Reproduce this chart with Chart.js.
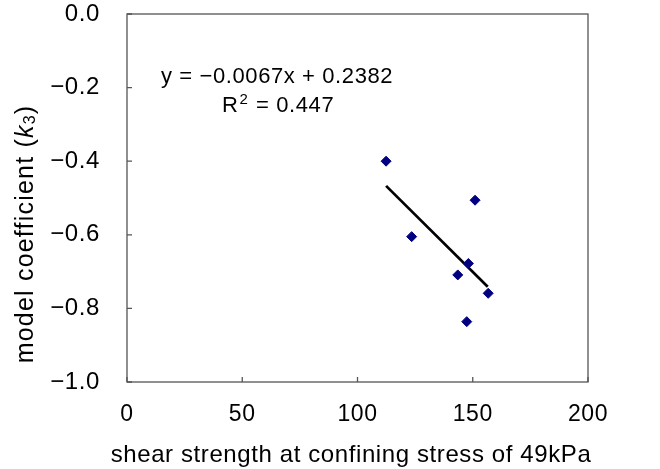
<!DOCTYPE html>
<html>
<head>
<meta charset="utf-8">
<script src="https://cdn.jsdelivr.net/npm/chart.js@4/dist/chart.umd.min.js"></script>
<style>
  html, body { margin: 0; padding: 0; background: #fff; }
  #wrap { width: 660px; height: 469px; }
</style>
</head>
<body>
<div id="wrap"><canvas id="chart" width="660" height="469"></canvas></div>
<script>
// values
const shearStrength = [112.4, 151.0, 123.5, 148.1, 143.5, 156.7, 147.4];
const k3Values = [-0.40, -0.506, -0.605, -0.678, -0.709, -0.759, -0.836];
const trendX = [112.4, 156.5];
const trendY = [-0.467, -0.741];
const xTicks = [0, 50, 100, 150, 200];
const yTicks = [0, -0.2, -0.4, -0.6, -0.8, -1.0];
const xTitle = 'shear strength at confining stress of 49kPa';
const equationText = 'y = \u22120.0067x + 0.2382';
const r2Text = '0.447';

const FONT = '"Liberation Sans", Arial, sans-serif';

const minus = v => v.toFixed(1).replace('-', '\u2212');

// the reference text is a little wider than Liberation Sans
const spacing = {
  id: 'spacing',
  beforeDraw(chart) { chart.ctx.letterSpacing = '0.6px'; }
};

// box around the plot + inward tick marks + equation + axis titles
const decorations = {
  id: 'decorations',
  afterDraw(chart) {
    const { ctx, chartArea: a, scales } = chart;
    ctx.save();
    ctx.strokeStyle = '#555';
    ctx.lineWidth = 1.3;
    ctx.strokeRect(a.left, a.top, a.right - a.left, a.bottom - a.top);

    ctx.beginPath();
    yTicks.forEach(v => {
      const y = scales.y.getPixelForValue(v);
      ctx.moveTo(a.left, y);
      ctx.lineTo(a.left + 5, y);
    });
    xTicks.forEach(v => {
      const x = scales.x.getPixelForValue(v);
      ctx.moveTo(x, a.bottom);
      ctx.lineTo(x, a.bottom - 5);
    });
    ctx.stroke();

    ctx.fillStyle = '#000';
    ctx.letterSpacing = '0.6px';
    ctx.textBaseline = 'alphabetic';
    ctx.textAlign = 'left';
    ctx.font = '22px ' + FONT;
    ctx.fillText(equationText, 161, 83);
    ctx.fillText('R', 222, 112);
    let w = ctx.measureText('R').width;
    ctx.font = '15px ' + FONT;
    ctx.fillText('2', 222 + w + 1, 104);
    ctx.font = '22px ' + FONT;
    ctx.fillText('= ' + r2Text, 256, 112);

    // x title runs wider than the plot, so it is drawn here
    ctx.font = '24px ' + FONT;
    ctx.textAlign = 'center';
    ctx.fillText(xTitle, 351, 462);

    // y axis title with italic k and subscript 3
    ctx.textAlign = 'left';
    ctx.letterSpacing = '1.2px';
    ctx.textBaseline = 'middle';
    ctx.translate(26, 234);
    ctx.rotate(-Math.PI / 2);
    const parts = [
      { t: 'model coefficient (', f: '25px ' + FONT, dy: 0 },
      { t: 'k', f: 'italic 25px ' + FONT, dy: 0 },
      { t: '3', f: '16px ' + FONT, dy: 5 },
      { t: ')', f: '25px ' + FONT, dy: 0 }
    ];
    let total = 0;
    parts.forEach(p => { ctx.font = p.f; total += ctx.measureText(p.t).width; });
    let x = -total / 2;
    parts.forEach(p => {
      ctx.font = p.f;
      ctx.fillText(p.t, x, p.dy);
      x += ctx.measureText(p.t).width;
    });
    ctx.restore();
  }
};

new Chart(document.getElementById('chart'), {
  type: 'scatter',
  data: {
    datasets: [
      {
        label: 'k3',
        data: shearStrength.map((x, i) => ({ x: x, y: k3Values[i] })),
        pointStyle: 'rectRot',
        pointRadius: 5,
        backgroundColor: '#000080',
        borderColor: '#000080',
        showLine: false
      },
      {
        label: 'trend',
        data: trendX.map((x, i) => ({ x: x, y: trendY[i] })),
        showLine: true,
        borderColor: '#000',
        borderWidth: 2.7,
        pointRadius: 0
      }
    ]
  },
  options: {
    responsive: false,
    animation: false,
    layout: { padding: { top: 14, right: 72, left: 0, bottom: 0 } },
    plugins: { legend: { display: false }, tooltip: { enabled: false } },
    scales: {
      x: {
        min: 0, max: 200,
        afterBuildTicks: s => { s.ticks = xTicks.map(v => ({ value: v })); },
        afterFit: s => { s.height = 87; s.paddingLeft = 0; s.paddingRight = 0; },
        grid: { display: false, drawTicks: false },
        border: { display: false },
        ticks: { color: '#000', font: { family: FONT, size: 23 }, padding: 19 }
      },
      y: {
        min: -1.0, max: 0,
        afterBuildTicks: s => { s.ticks = yTicks.map(v => ({ value: v })); },
        afterFit: s => { s.width = 127; s.paddingTop = 0; s.paddingBottom = 0; },
        grid: { display: false, drawTicks: false },
        border: { display: false },
        ticks: {
          color: '#000',
          font: { family: FONT, size: 24 },
          padding: 27,
          callback: v => minus(v)
        }
      }
    }
  },
  plugins: [spacing, decorations]
});
</script>
</body>
</html>
